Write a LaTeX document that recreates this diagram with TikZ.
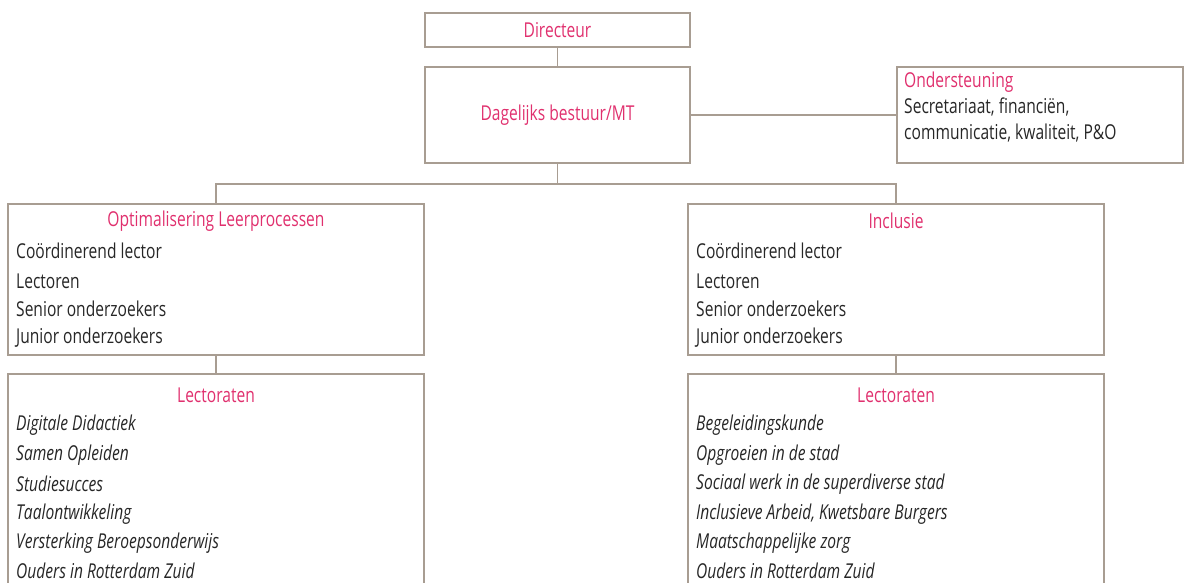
\documentclass[tikz,border=0pt]{standalone}
\usepackage{fontspec}
\setmainfont{Open Sans}[FakeStretch=0.76]
\usetikzlibrary{positioning}
\definecolor{frame}{HTML}{A89D92}
\definecolor{titlepink}{HTML}{E0306E}
\definecolor{bodytext}{HTML}{262626}

\begin{document}
\begin{tikzpicture}[x=1pt,y=-1pt]
		\tikzstyle{box}=[draw=frame,line width=1.8pt,rectangle,inner sep=0pt]
		\tikzstyle{title}=[text=titlepink,font=\fontsize{20.5}{22}\selectfont,inner sep=0pt]
		\tikzstyle{item}=[text=bodytext,font=\fontsize{20.5}{22}\selectfont,anchor=west,inner sep=0pt]
		\tikzstyle{lect}=[item,font=\fontsize{20.5}{22}\selectfont\itshape]

		\clip (0,0) rectangle (1185,583);

		% top
		\node[box,minimum width=265pt,minimum height=34pt] (dir) at (557.5,30) {};
		\node[box,minimum width=265pt,minimum height=96pt] (mt) at (557.5,115) {};
		\node[box,minimum width=286pt,minimum height=96pt] (ond) at (1040,115) {};
		\node[title] (dirT) at (dir.center) {Directeur};
		\node[title] (mtT) at (mt.center) {Dagelijks bestuur/MT};
		\node[title,anchor=west] (ondT) at (904,82) {Ondersteuning};
		\node[item] (ond1) at (904,107) {Secretariaat, financiën,};
		\node[item] (ond2) at (904,133) {communicatie, kwaliteit, P\&O};

		% programma's
		\node[box,minimum width=416pt,minimum height=151pt] (ol) at (216,279.5) {};
		\node[box,minimum width=416pt,minimum height=151pt] (inc) at (896,279.5) {};
		\node[title] (olT) at (216,221) {Optimalisering Leerprocessen};
		\node[title] (incT) at (896,221) {Inclusie};
		\foreach \nm/\x in {ol/16,inc/696}{
			\node[item] (\nm1) at (\x,251) {Coördinerend lector};
			\node[item] (\nm2) at (\x,281) {Lectoren};
			\node[item] (\nm3) at (\x,309) {Senior onderzoekers};
			\node[item] (\nm4) at (\x,338) {Junior onderzoekers};
		}

		% lectoraten
		\node[box,minimum width=416pt,minimum height=246pt] (lecl) at (216,497) {};
		\node[box,minimum width=416pt,minimum height=246pt] (lecr) at (896,497) {};
		\node[title] (leclT) at (216,395) {Lectoraten};
		\node[title] (lecrT) at (896,395) {Lectoraten};
		\node[lect] (l1) at (16,425) {Digitale Didactiek};
		\node[lect] (l2) at (16,455) {Samen Opleiden};
		\node[lect] (l3) at (16,484) {Studiesucces};
		\node[lect] (l4) at (16,514) {Taalontwikkeling};
		\node[lect] (l5) at (16,543) {Versterking Beroepsonderwijs};
		\node[lect] (l6) at (16,571) {Ouders in Rotterdam Zuid};
		\node[lect] (r1) at (696,425) {Begeleidingskunde};
		\node[lect] (r2) at (696,455) {Opgroeien in de stad};
		\node[lect] (r3) at (696,484) {Sociaal werk in de superdiverse stad};
		\node[lect] (r4) at (696,514) {Inclusieve Arbeid, Kwetsbare Burgers};
		\node[lect] (r5) at (696,543) {Maatschappelijke zorg};
		\node[lect] (r6) at (696,571) {Ouders in Rotterdam Zuid};

		\coordinate (split) at (557.5,184);
		\draw[frame,line width=1.8pt] (dir) -- (mt);
		\draw[frame,line width=1.8pt] (mt) -- (ond);
		\draw[frame,line width=1.8pt] (mt) -- (split);
		\draw[frame,line width=1.8pt] (split) -| (ol);
		\draw[frame,line width=1.8pt] (split) -| (inc);
		\draw[frame,line width=1.8pt] (ol) -- (lecl);
		\draw[frame,line width=1.8pt] (inc) -- (lecr);
	\end{tikzpicture}
\end{document}
